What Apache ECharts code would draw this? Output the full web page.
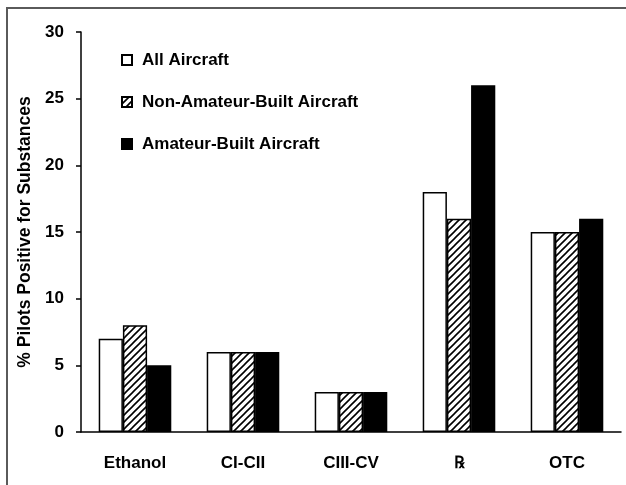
<!DOCTYPE html>
<html>
<head>
<meta charset="utf-8">
<script src="https://cdn.jsdelivr.net/npm/echarts@6/dist/echarts.min.js"></script>
<style>
  html, body { margin: 0; padding: 0; background: #fff; }
  #chart { width: 626px; height: 485px; }
</style>
</head>
<body>
<div id="chart"></div>
<script>
// categories and values
var categories = ['Ethanol', 'CI-CII', 'CIII-CV', '\u211E', 'OTC']
var allAircraft = [7, 6, 3, 18, 15]
var nonAmateur = [8, 6, 3, 16, 15]
var amateur = [5, 6, 3, 26, 16]
var yTicks = [0, 5, 10, 15, 20, 25, 30]

var font = '"Liberation Sans", Arial, sans-serif'

// diagonal hatch for the non-amateur series
function hatch() {
  var c = document.createElement('canvas')
  c.width = 7
  c.height = 7
  var ctx = c.getContext('2d')
  ctx.fillStyle = '#fff'
  ctx.fillRect(0, 0, 7, 7)
  ctx.strokeStyle = '#000'
  ctx.lineWidth = 1.6
  ctx.beginPath()
  ctx.moveTo(-1, 8); ctx.lineTo(8, -1)
  ctx.moveTo(-1, 1); ctx.lineTo(1, -1)
  ctx.moveTo(6, 8); ctx.lineTo(8, 6)
  ctx.stroke()
  return c
}

var chart = echarts.init(document.getElementById('chart'))

var bar = function (name, data, color) {
  return {
    name: name,
    type: 'bar',
    data: data,
    barWidth: '22.4%',
    barGap: '0%',
    itemStyle: { color: color, borderColor: '#000', borderWidth: 1.5 },
    emphasis: { disabled: true }
  }
}

chart.setOption({
  animation: false,
  graphic: [{
    type: 'rect',
    shape: { x: 7, y: 8, width: 700, height: 700 },
    style: { fill: null, stroke: '#5a5a5a', lineWidth: 2 },
    silent: true
  }],
  grid: { left: 81, right: 5, top: 32, bottom: 53, outerBoundsMode: 'none' },
  legend: {
    orient: 'vertical',
    left: 116,
    top: 46,
    icon: 'rect',
    itemWidth: 10,
    itemHeight: 10,
    itemGap: 24,
    textStyle: { fontFamily: font, fontWeight: 'bold', fontSize: 17, color: '#000', lineHeight: 18, padding: [0, 0, 0, 5] },
    data: ['All Aircraft', 'Non-Amateur-Built Aircraft', 'Amateur-Built Aircraft']
  },
  xAxis: {
    type: 'category',
    data: categories,
    axisLine: { lineStyle: { color: '#000', width: 1.5 } },
    axisTick: { length: 5, lineStyle: { color: '#000', width: 1.5 } },
    axisLabel: { fontFamily: font, fontWeight: 'bold', fontSize: 17, color: '#000', margin: 23 }
  },
  yAxis: {
    type: 'value',
    min: yTicks[0],
    max: yTicks[yTicks.length - 1],
    interval: 5,
    name: '% Pilots Positive for Substances',
    nameLocation: 'middle',
    nameGap: 45,
    nameTextStyle: { fontFamily: font, fontWeight: 'bold', fontSize: 17.5, color: '#000' },
    splitLine: { show: false },
    axisLine: { show: true, lineStyle: { color: '#000', width: 1.5 } },
    axisTick: { show: true, length: 5, lineStyle: { color: '#000', width: 1.5 } },
    axisLabel: { fontFamily: font, fontWeight: 'bold', fontSize: 17, color: '#000', margin: 17 }
  },
  series: [
    bar('All Aircraft', allAircraft, '#fff'),
    bar('Non-Amateur-Built Aircraft', nonAmateur, { image: hatch(), repeat: 'repeat' }),
    bar('Amateur-Built Aircraft', amateur, '#000')
  ]
})
</script>
</body>
</html>
